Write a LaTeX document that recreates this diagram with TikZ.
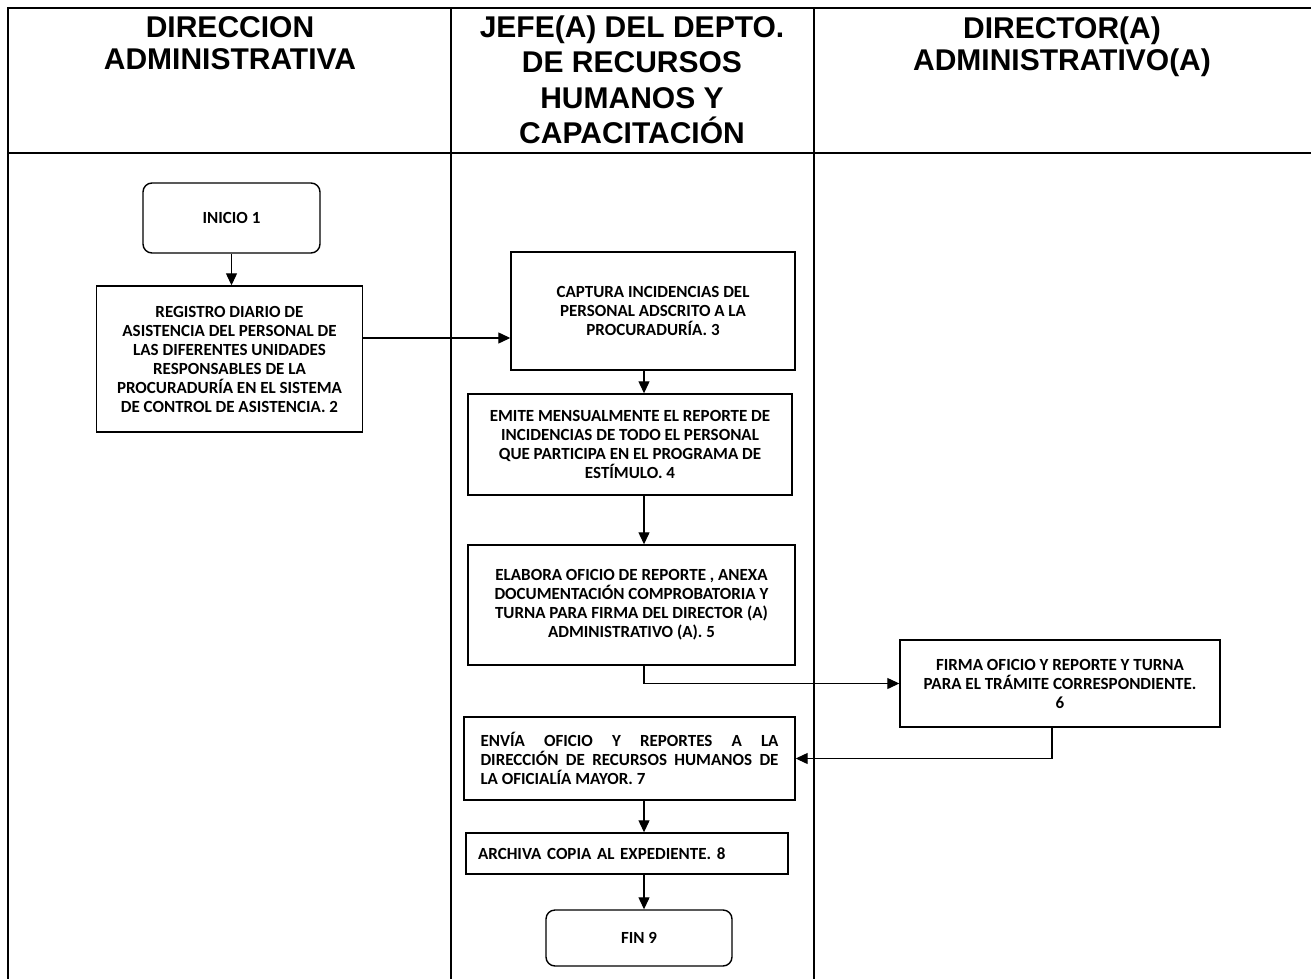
\documentclass[tikz,border=0pt]{standalone}
\usepackage{fontspec}
\setmainfont{Carlito}
\newfontfamily\headfont{Liberation Sans}
\usetikzlibrary{arrows.meta, positioning}

\begin{document}
\begin{tikzpicture}[
    x=1pt, y=-1pt,
    font=\bfseries\fontsize{17}{19}\selectfont,
    lane/.style={
      line width=1.6pt,
      draw=black
    },
    header/.style={
      align=center,
      inner sep=0pt,
      font=\headfont\bfseries\fontsize{30}{32}\selectfont
    },
    procbox/.style={
      draw,
      line width=1.4pt,
      align=center,
      inner sep=3pt
    },
    terminal/.style={
      procbox,
      rounded corners=9pt
    },
    arrow/.style={
      -{Triangle[length=12pt, width=11pt]},
      line width=1.2pt
    }
  ]

    \useasboundingbox (0,0) rectangle (1311,979);

    % Swimlanes
    \draw[lane] (1311,8) -- (8,8) -- (8,979);
    \draw[lane] (8,153) -- (1311,153);
    \draw[lane] (451,8) -- (451,979);
    \draw[lane] (814,8) -- (814,979);

    \node[header] (lanedir) at (230,43.5) {DIRECCION\\ADMINISTRATIVA};
    \node[header, font=\headfont\bfseries\fontsize{30}{35.5}\selectfont] (lanejefe) at (632,80)
      {JEFE(A) DEL DEPTO.\\DE RECURSOS\\HUMANOS Y\\CAPACITACIÓN};
    \node[header] (lanedira) at (1062,47) {DIRECTOR(A)\\ADMINISTRATIVO(A)};

    % Steps
    \node[terminal, minimum width=177, minimum height=70] (inicio) at (231.5,218) {INICIO 1};
    \node[procbox, minimum width=266, minimum height=146] (registro) at (229.5,359)
      {REGISTRO DIARIO DE\\ASISTENCIA DEL PERSONAL DE\\LAS DIFERENTES UNIDADES\\RESPONSABLES DE LA\\PROCURADURÍA EN EL SISTEMA\\DE CONTROL DE ASISTENCIA. 2};
    \node[procbox, minimum width=284, minimum height=118] (captura) at (653,311)
      {CAPTURA INCIDENCIAS DEL\\PERSONAL ADSCRITO A LA\\PROCURADURÍA. 3};
    \node[procbox, minimum width=324, minimum height=101] (emite) at (630,444.5)
      {EMITE MENSUALMENTE EL REPORTE DE\\INCIDENCIAS DE TODO EL PERSONAL\\QUE PARTICIPA EN EL PROGRAMA DE\\ESTÍMULO. 4};
    \node[procbox, minimum width=327, minimum height=120] (elabora) at (631.5,605)
      {ELABORA OFICIO DE REPORTE , ANEXA\\DOCUMENTACIÓN COMPROBATORIA Y\\TURNA PARA FIRMA DEL DIRECTOR (A)\\ADMINISTRATIVO (A). 5};
    \node[procbox, minimum width=320, minimum height=87] (firma) at (1060,683.5)
      {FIRMA OFICIO Y REPORTE Y TURNA\\PARA EL TRÁMITE CORRESPONDIENTE.\\6};
    \node[procbox, minimum width=331, minimum height=83, align=left] (envia) at (629.5,758.5)
      {\makebox[298pt][s]{ENVÍA OFICIO Y REPORTES A LA}\\\makebox[298pt][s]{DIRECCIÓN DE RECURSOS HUMANOS DE}\\LA OFICIALÍA MAYOR. 7};
    \node[procbox, minimum width=322, minimum height=41, align=left, text width=298pt] (archiva) at (627,853.5)
      {ARCHIVA COPIA AL EXPEDIENTE. 8};
    \node[terminal, minimum width=186, minimum height=56] (fin) at (639,938) {FIN 9};

    % Connectors
    \coordinate (eje) at (644,0);
    \coordinate (enlace) at (0,338);

    \draw[arrow] (inicio.south) -- (inicio.south |- registro.north);
    \draw[arrow] (registro.east |- enlace) -- (captura.west |- enlace);
    \draw[arrow] (eje |- captura.south) -- (eje |- emite.north);
    \draw[arrow] (eje |- emite.south) -- (eje |- elabora.north);
    \draw[arrow] (eje |- elabora.south) |- (firma.west);
    \draw[arrow] ([xshift=-8pt]firma.south) |- (envia.east);
    \draw[arrow] (eje |- envia.south) -- (eje |- archiva.north);
    \draw[arrow] (eje |- archiva.south) -- (eje |- fin.north);

  \end{tikzpicture}
\end{document}
